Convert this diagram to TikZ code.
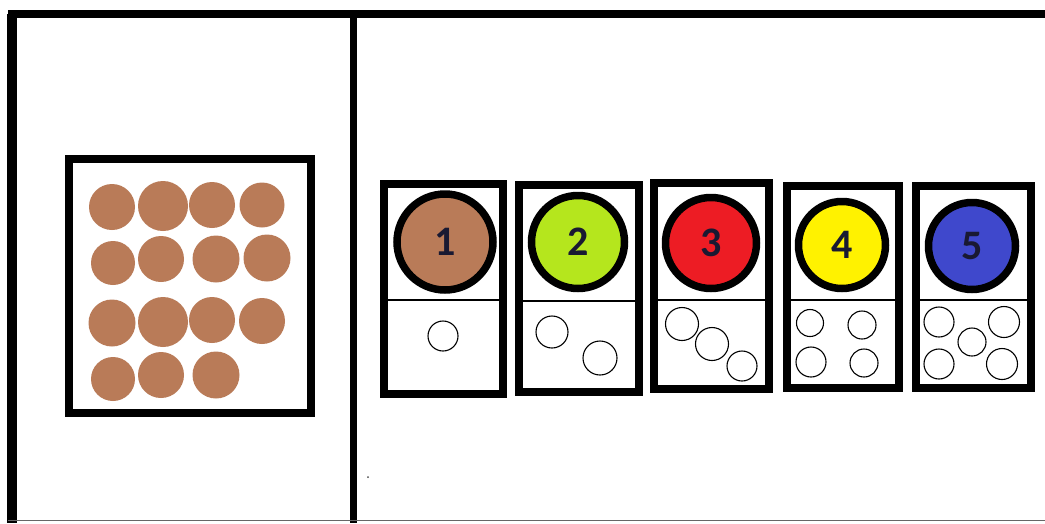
\documentclass[tikz,border=0pt]{standalone}
\usepackage{fontspec}
\setmainfont{Carlito}
\definecolor{bead}{RGB}{185,123,88}
\definecolor{lime}{RGB}{181,230,29}
\definecolor{pred}{RGB}{237,28,36}
\definecolor{pyel}{RGB}{255,242,0}
\definecolor{pblue}{RGB}{63,72,204}
\definecolor{digit}{RGB}{25,25,50}
\tikzset{
  frame/.style={draw=black,line width=8pt},
  cardbox/.style={draw=black,line width=8pt,fill=white},
  divline/.style={draw=black,line width=1.3pt},
  badge/.style={circle,draw=black,line width=7.5pt,inner sep=0pt,minimum size=#1,
    font=\bfseries\fontsize{42}{42}\selectfont,text=digit},
  pip/.style={circle,draw=black,line width=1.1pt,inner sep=0pt,minimum size=#1},
  beadc/.style={circle,fill=bead,inner sep=0pt,minimum size=#1}
}
\begin{document}
\begin{tikzpicture}[x=1pt,y=-1pt]
\useasboundingbox (0,0) rectangle (1045,523);
\fill[white] (0,0) rectangle (1045,523);
% outer frame
\draw[line width=10pt] (12,14) -- (12,523);
\draw[line width=8pt] (8,14) -- (1045,14);
\draw[line width=7pt] (353,14) -- (353,523);
\draw[line width=1.5pt,black!60] (8,520.5) -- (1045,520.5);
% left box
\draw[frame] (69,159) rectangle (311,413);
\node[beadc=46pt] (b1) at (112,207) {};
\node[beadc=50pt] (b2) at (163,206) {};
\node[beadc=46pt] (b3) at (212,205) {};
\node[beadc=45pt] (b4) at (262,205) {};
\node[beadc=44pt] (b5) at (113,263) {};
\node[beadc=46pt] (b6) at (161,259) {};
\node[beadc=47pt] (b7) at (216,259) {};
\node[beadc=47pt] (b8) at (267,258) {};
\node[beadc=47pt] (b9) at (112,323) {};
\node[beadc=50pt] (b10) at (163,322) {};
\node[beadc=46pt] (b11) at (212,320) {};
\node[beadc=46pt] (b12) at (262,321) {};
\node[beadc=44pt] (b13) at (113,379) {};
\node[beadc=46pt] (b14) at (161,375) {};
\node[beadc=47pt] (b15) at (216,375) {};
% speck
\fill[black!70] (368,477) circle (1pt);
% card 1
\draw[cardbox] (384,184) rectangle (503,394);
\draw[divline] (388,300) -- (499,300);
\node[badge=96pt,fill=bead] (c1) at (445,242) {1};
\node[pip=30pt] (p11) at (443,336) {};
% card 2
\draw[cardbox] (519,185) rectangle (639,392);
\draw[divline] (523,301) -- (635,301);
\node[badge=93pt,fill=lime] (c2) at (578,242) {2};
\node[pip=32pt] (p21) at (552,332) {};
\node[pip=34pt] (p22) at (600,358) {};
% card 3
\draw[cardbox] (654,183) rectangle (769,389);
\draw[divline] (658,300) -- (765,300);
\node[badge=91pt,fill=pred] (c3) at (711,243) {3};
\node[pip=33pt] (p31) at (682,324) {};
\node[pip=33pt] (p32) at (712,344) {};
\node[pip=30pt] (p33) at (742,366) {};
% card 4
\draw[cardbox] (787,186) rectangle (899,388);
\draw[divline] (791,300) -- (895,300);
\node[badge=87pt,fill=pyel] (c4) at (842,245) {4};
\node[pip=27pt] (p41) at (810,323) {};
\node[pip=28pt] (p42) at (862,325) {};
\node[pip=30pt] (p43) at (811,362) {};
\node[pip=28pt] (p44) at (864,363) {};
% card 5
\draw[cardbox] (916,186) rectangle (1031,388);
\draw[divline] (920,300) -- (1027,300);
\node[badge=87pt,fill=pblue] (c5) at (972,246) {5};
\node[pip=30pt] (p51) at (939,322) {};
\node[pip=31pt] (p52) at (1004,322) {};
\node[pip=28pt] (p53) at (972,342) {};
\node[pip=30pt] (p54) at (939,364) {};
\node[pip=31pt] (p55) at (1002,364) {};
\end{tikzpicture}
\end{document}
